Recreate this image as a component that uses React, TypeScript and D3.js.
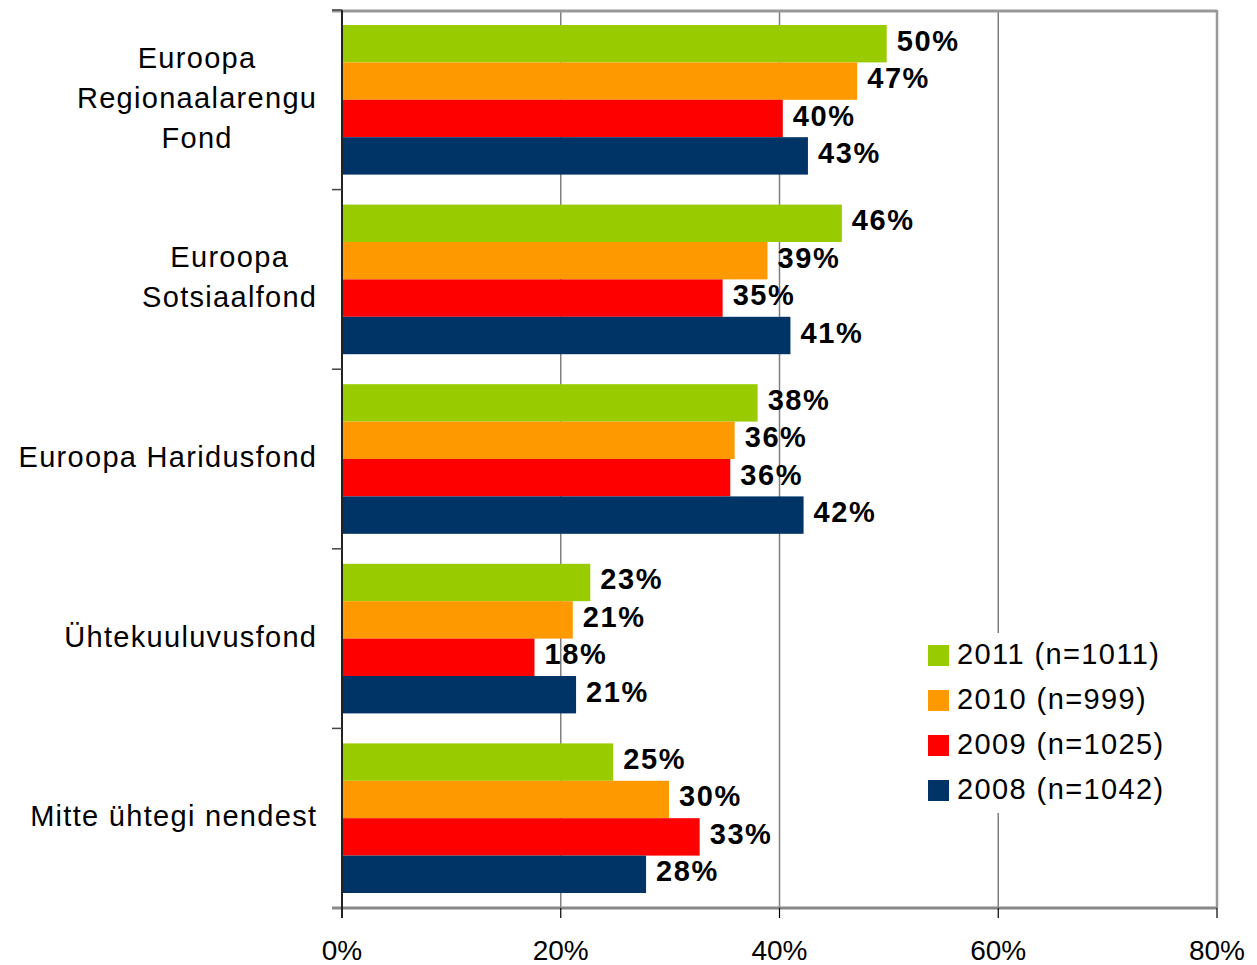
import React, { useEffect, useRef } from "react";
import * as d3 from "d3";

const categories: string[][] = [
  ["Euroopa", "Regionaalarengu", "Fond"],
  ["Euroopa", "Sotsiaalfond"],
  ["Euroopa Haridusfond"],
  ["Ühtekuuluvusfond"],
  ["Mitte ühtegi nendest"],
];
const seriesNames = ["2011 (n=1011)", "2010 (n=999)", "2009 (n=1025)", "2008 (n=1042)"];
const seriesColors = ["#99CC00", "#FF9900", "#FF0000", "#003366"];
// values per category, in series order 2011, 2010, 2009, 2008
const values2011 = [49.8, 45.7, 38.0, 22.7, 24.8];
const values2010 = [47.1, 38.9, 35.9, 21.1, 29.9];
const values2009 = [40.3, 34.8, 35.5, 17.6, 32.7];
const values2008 = [42.6, 41.0, 42.2, 21.4, 27.8];
const xTicks = [0, 20, 40, 60, 80];

const W = 1257;
const H = 965;
const left = 342;
const right = 1217;
const top = 10;
const bottom = 908;
const LS = 1.3;

export default function App() {
  const ref = useRef<SVGSVGElement>(null);
  const series = [values2011, values2010, values2009, values2008];
  const x = d3.scaleLinear().domain([0, 80]).range([left, right]);
  const y = d3
    .scaleBand<number>()
    .domain(categories.map((_, i) => i))
    .range([top, bottom])
    .paddingInner(0.167)
    .paddingOuter(0.0835);
  const inner = d3
    .scaleBand<number>()
    .domain(seriesNames.map((_, i) => i))
    .range([0, y.bandwidth()]);

  useEffect(() => {
    if (!ref.current) return;
    const svg = d3.select(ref.current);
    svg.selectAll<SVGGElement, unknown>("g.catlabel").each(function () {
      const g = d3.select(this);
      const texts = g.selectAll<SVGTextElement, unknown>("text");
      let maxW = 0;
      texts.each(function () {
        maxW = Math.max(maxW, this.getComputedTextLength());
      });
      texts.attr("x", 316 + LS - maxW / 2).attr("text-anchor", "middle");
    });
  }, []);

  const font = "'Liberation Sans', Arial, Helvetica, sans-serif";

  return (
    <svg
      ref={ref}
      width={W}
      height={H}
      style={{ position: "absolute", left: 0, top: 0, background: "#fff" }}
      fontFamily={font}
    >
      <rect x={0} y={0} width={W} height={H} fill="#fff" />
      {/* gridlines */}
      {xTicks.slice(1, -1).map((t) => (
        <line key={"g" + t} x1={x(t)} x2={x(t)} y1={top} y2={bottom} stroke="#808080" strokeWidth={1.5} />
      ))}
      {/* top + right border */}
      <line x1={332} x2={right} y1={top + 1} y2={top + 1} stroke="#999" strokeWidth={3} />
      <line x1={right} x2={right} y1={top} y2={bottom} stroke="#999" strokeWidth={2.5} />
      {/* legend background */}
      <rect x={918} y={633} width={252} height={180} fill="#fff" />
      {/* bars */}
      {categories.map((_, ci) => (
        <g key={"c" + ci}>
          {series.map((vals, si) => {
            const y0 = (y(ci) as number) + (inner(si) as number);
            return (
              <rect
                key={si}
                x={x(0)}
                y={y0}
                width={x(vals[ci]) - x(0)}
                height={inner.bandwidth()}
                fill={seriesColors[si]}
              />
            );
          })}
          {series.map((vals, si) => {
            const yc = (y(ci) as number) + (inner(si) as number) + inner.bandwidth() / 2;
            return (
              <text
                key={"t" + si}
                x={x(vals[ci]) + 10}
                y={yc + 7}
                fontSize={29}
                fontWeight="bold"
                fill="#000"
                letterSpacing={1.6}
              >
                {Math.round(vals[ci]) + "%"}
              </text>
            );
          })}
        </g>
      ))}
      {/* bottom axis */}
      <line x1={332} x2={right} y1={bottom} y2={bottom} stroke="#888" strokeWidth={3} />
      {xTicks.map((t) => (
        <g key={"xt" + t}>
          <line x1={x(t)} x2={x(t)} y1={bottom} y2={bottom + 10} stroke="#000" strokeWidth={1.2} />
          <text x={x(t)} y={960} textAnchor="middle" fontSize={28} fill="#000">
            {t + "%"}
          </text>
        </g>
      ))}
      {/* left axis */}
      <line x1={left} x2={left} y1={top} y2={bottom + 10} stroke="#222" strokeWidth={2} />
      {categories.map((_, ci) => (
        <line key={"yt" + ci} x1={332} x2={left} y1={(y(ci) as number) - y.step() * y.paddingInner() / 2} y2={(y(ci) as number) - y.step() * y.paddingInner() / 2} stroke="#444" strokeWidth={1.5} />
      ))}
      {/* category labels */}
      {categories.map((lines, ci) => {
        const c = (y(ci) as number) + y.bandwidth() / 2;
        const n = lines.length;
        return (
          <g key={"cl" + ci} className="catlabel">
            {lines.map((ln, li) => (
              <text key={li} x={316} y={c + 8 + (li - (n - 1) / 2) * 40} textAnchor="end" fontSize={29} fill="#000" letterSpacing={LS}>
                {ln}
              </text>
            ))}
          </g>
        );
      })}
      {/* legend */}
      {seriesNames.map((s, i) => (
        <g key={"lg" + i}>
          <rect x={928} y={645 + i * 45} width={21} height={21} fill={seriesColors[i]} />
          <text x={957} y={664 + i * 45} fontSize={29} fill="#000" letterSpacing={1.4}>
            {s}
          </text>
        </g>
      ))}
    </svg>
  );
}
